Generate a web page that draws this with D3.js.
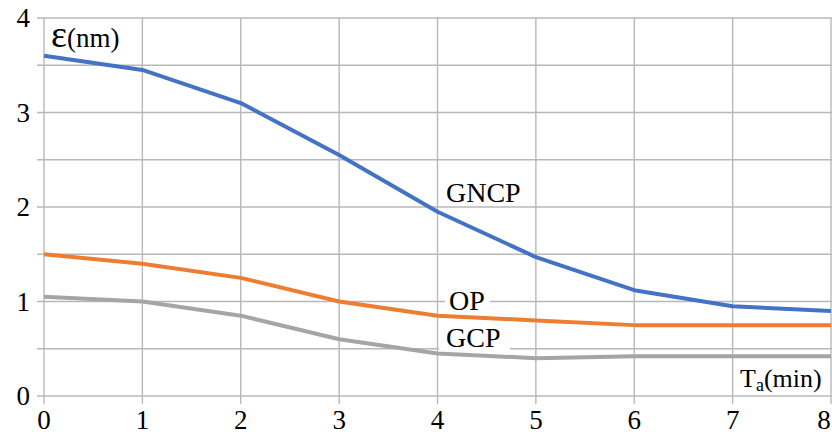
<!DOCTYPE html>
<html><head><meta charset="utf-8">
<script src="https://cdn.jsdelivr.net/npm/d3@7"></script>
<style>body{margin:0;background:#fff}svg{display:block}</style>
</head><body>
<svg id="c" width="832" height="435"></svg>
<script>
const xValues = [0,1,2,3,4,5,6,7,8];
const gncp = [3.6,3.45,3.1,2.55,1.95,1.47,1.12,0.95,0.9];
const op   = [1.5,1.4,1.25,1.0,0.85,0.8,0.75,0.75,0.75];
const gcp  = [1.05,1.0,0.85,0.6,0.45,0.4,0.42,0.42,0.42];
const xTicks = [0,1,2,3,4,5,6,7,8];
const yTicks = [0,1,2,3,4];
const yGrid = [0,0.5,1,1.5,2,2.5,3,3.5,4];

const FONT = "'Liberation Serif','DejaVu Serif','Times New Roman',serif";
const svg = d3.select("#c").attr("font-family",FONT);
const x = d3.scaleLinear().domain([0,8]).range([44,831]);
const y = d3.scaleLinear().domain([0,4]).range([396,18]);
const gridColor = "#b8b8b8";

svg.append("g").selectAll("line").data(yGrid).join("line")
  .attr("x1",37).attr("x2",832).attr("y1",d=>y(d)).attr("y2",d=>y(d))
  .attr("stroke",gridColor).attr("stroke-width",1.4);
svg.append("g").selectAll("line").data(xTicks).join("line")
  .attr("x1",d=>x(d)).attr("x2",d=>x(d)).attr("y1",y(4)).attr("y2",404)
  .attr("stroke",gridColor).attr("stroke-width",1.4);

svg.append("g").selectAll("text").data(yTicks).join("text")
  .attr("font-family",FONT)
  .attr("x",30).attr("y",d=>y(d)+9).attr("text-anchor","end")
  .attr("font-size",27).text(d=>d);
svg.append("g").selectAll("text").data(xTicks).join("text")
  .attr("font-family",FONT)
  .attr("x",d=>Math.min(x(d),824)).attr("y",429).attr("text-anchor","middle")
  .attr("font-size",27).text(d=>d);

// label backgrounds
svg.append("rect").attr("x",445).attr("y",286).attr("width",45).attr("height",21).attr("fill","#fff");
svg.append("rect").attr("x",439).attr("y",323).attr("width",71).attr("height",28).attr("fill","#fff");

const line = d3.line().x((d,i)=>x(xValues[i])).y(d=>y(d)).curve(d3.curveLinear);
const series = [[gcp,"#a5a5a5"],[op,"#ed7d31"],[gncp,"#4472c4"]];
series.forEach(([s,c])=>{
  svg.append("path").attr("d",line(s)).attr("fill","none")
    .attr("stroke",c).attr("stroke-width",4).attr("stroke-linejoin","round");
});

svg.append("text").attr("font-family",FONT).attr("x",446).attr("y",202).attr("font-size",28).text("GNCP");
svg.append("text").attr("font-family",FONT).attr("x",449).attr("y",310).attr("font-size",28).text("OP");
svg.append("text").attr("font-family",FONT).attr("x",446).attr("y",347).attr("font-size",28).text("GCP");

const yt = svg.append("text").attr("font-family",FONT).attr("x",51).attr("y",47);
yt.append("tspan").attr("font-size",38).text("ε");
yt.append("tspan").attr("font-size",27).text("(nm)");
const xt = svg.append("text").attr("font-family",FONT).attr("x",740).attr("y",387).attr("font-size",26);
xt.append("tspan").text("T");
xt.append("tspan").attr("font-size",18).attr("dy",4).text("a");
xt.append("tspan").attr("dy",-4).text("(min)");
</script>
</body></html>
